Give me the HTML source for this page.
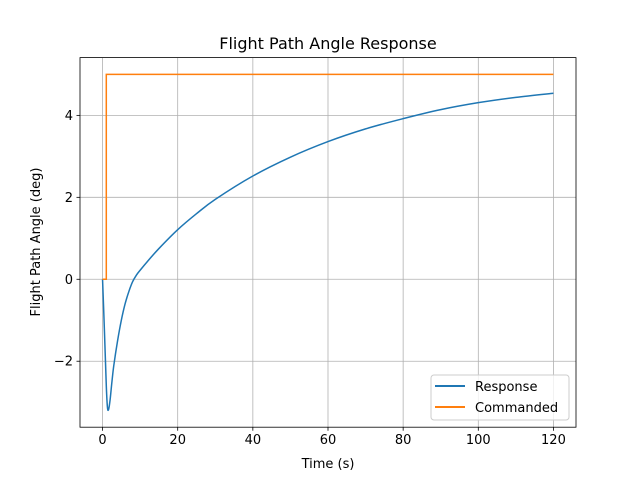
<!DOCTYPE html>
<html><head><meta charset="utf-8"><style>
body{margin:0;background:#fff}
svg text{font-family:"DejaVu Sans","Liberation Sans",sans-serif;fill:#000}
</style></head><body>
<svg id="chart" width="640" height="480" xmlns="http://www.w3.org/2000/svg">
<rect width="640" height="480" fill="#fff"/>
<g id="grid"></g>
<g id="series"></g>
<rect x="80" y="57.6" width="496" height="369.6" fill="none" stroke="#000" stroke-width="0.8"/>
<g id="ticks"></g>
<text x="328" y="49" font-size="16" text-anchor="middle">Flight Path Angle Response</text>
<text x="328" y="468" font-size="13" text-anchor="middle">Time (s)</text>
<text x="40" y="242" font-size="13" text-anchor="middle" transform="rotate(-90 40 242)">Flight Path Angle (deg)</text>
<g>
<rect x="431" y="375" width="138" height="45" rx="3" fill="#fff" fill-opacity="0.8" stroke="#ccc" stroke-width="1"/>
<line x1="435" y1="386" x2="465" y2="386" stroke="#1f77b4" stroke-width="2"/>
<text x="475" y="391" font-size="13">Response</text>
<line x1="435" y1="407" x2="465" y2="407" stroke="#ff7f0e" stroke-width="2"/>
<text x="475" y="412" font-size="13">Commanded</text>
</g>
</svg>
<script>
const xTicks=[0,20,40,60,80,100,120];
const yTicks=[-2,0,2,4];
const yTickLabels=["\u22122","0","2","4"];
const respT=[0,0.5,1,1.3,1.6,2,2.5,3,4,5,6,7,8,9,10,12,15,20,25,30,40,50,60,70,80,90,100,110,120];
const respY=[0,-1.25,-2.6,-3.12,-3.18,-2.95,-2.5,-2.1,-1.5,-1.0,-0.6,-0.3,-0.06,0.1,0.22,0.44,0.75,1.21,1.6,1.95,2.52,2.98,3.36,3.67,3.92,4.14,4.31,4.44,4.54];
const cmdT=[0,1,1,120];
const cmdY=[0,0,5,5];
const xMin=-6,xMax=126,yMin=-3.61,yMax=5.41;
const L=80,R=576,T=57.6,B=427.2;
const sx=v=>L+(v-xMin)/(xMax-xMin)*(R-L);
const sy=v=>B-(v-yMin)/(yMax-yMin)*(B-T);
const NS="http://www.w3.org/2000/svg";
const grid=document.getElementById('grid'),ticks=document.getElementById('ticks'),ser=document.getElementById('series');
function mk(tag,attrs,parent){const e=document.createElementNS(NS,tag);for(const k in attrs)e.setAttribute(k,attrs[k]);parent.appendChild(e);return e;}
xTicks.forEach(v=>{
 const x=sx(v);
 const g=mk('line',{x1:x,x2:x,y1:T,y2:B,stroke:'#b0b0b0','stroke-width':0.8},grid);
 
 
 const t=mk('line',{x1:x,x2:x,y1:B,y2:B+3.5,stroke:'#000','stroke-width':0.8},ticks);
 
 
 const l=mk('text',{x:x,y:B+17,'font-size':13,'text-anchor':'middle'},ticks);
 l.textContent=String(v);
 
 
});
yTicks.forEach((v,i)=>{
 const y=sy(v);
 const g=mk('line',{x1:L,x2:R,y1:y,y2:y,stroke:'#b0b0b0','stroke-width':0.8},grid);
 
 
 const t=mk('line',{x1:L-3.5,x2:L,y1:y,y2:y,stroke:'#000','stroke-width':0.8},ticks);
 
 
 const l=mk('text',{x:L-7,y:y+4.5,'font-size':13,'text-anchor':'end'},ticks);
 l.textContent=yTickLabels[i];
 
 
});
function path(ts,ys){return ts.map((t,i)=>(i?'L':'M')+sx(t).toFixed(2)+','+sy(ys[i]).toFixed(2)).join(' ');}
function smooth(ts,ys){
 const P=ts.map((t,i)=>[sx(t),sy(ys[i])]);
 let d='M'+P[0][0].toFixed(2)+','+P[0][1].toFixed(2);
 for(let i=0;i<P.length-1;i++){
  const p0=P[i-1]||P[i],p1=P[i],p2=P[i+1],p3=P[i+2]||P[i+1];
  const c1=[p1[0]+(p2[0]-p0[0])/6,p1[1]+(p2[1]-p0[1])/6];
  const c2=[p2[0]-(p3[0]-p1[0])/6,p2[1]-(p3[1]-p1[1])/6];
  d+=' C'+c1.map(v=>v.toFixed(2)).join(',')+' '+c2.map(v=>v.toFixed(2)).join(',')+' '+p2.map(v=>v.toFixed(2)).join(',');
 }
 return d;
}
const p1=mk('path',{d:smooth(respT,respY),fill:'none',stroke:'#1f77b4','stroke-width':1.5,'stroke-linejoin':'round'},ser);


const p2=mk('path',{d:path(cmdT,cmdY),fill:'none',stroke:'#ff7f0e','stroke-width':1.5},ser);


</script>
</body></html>
